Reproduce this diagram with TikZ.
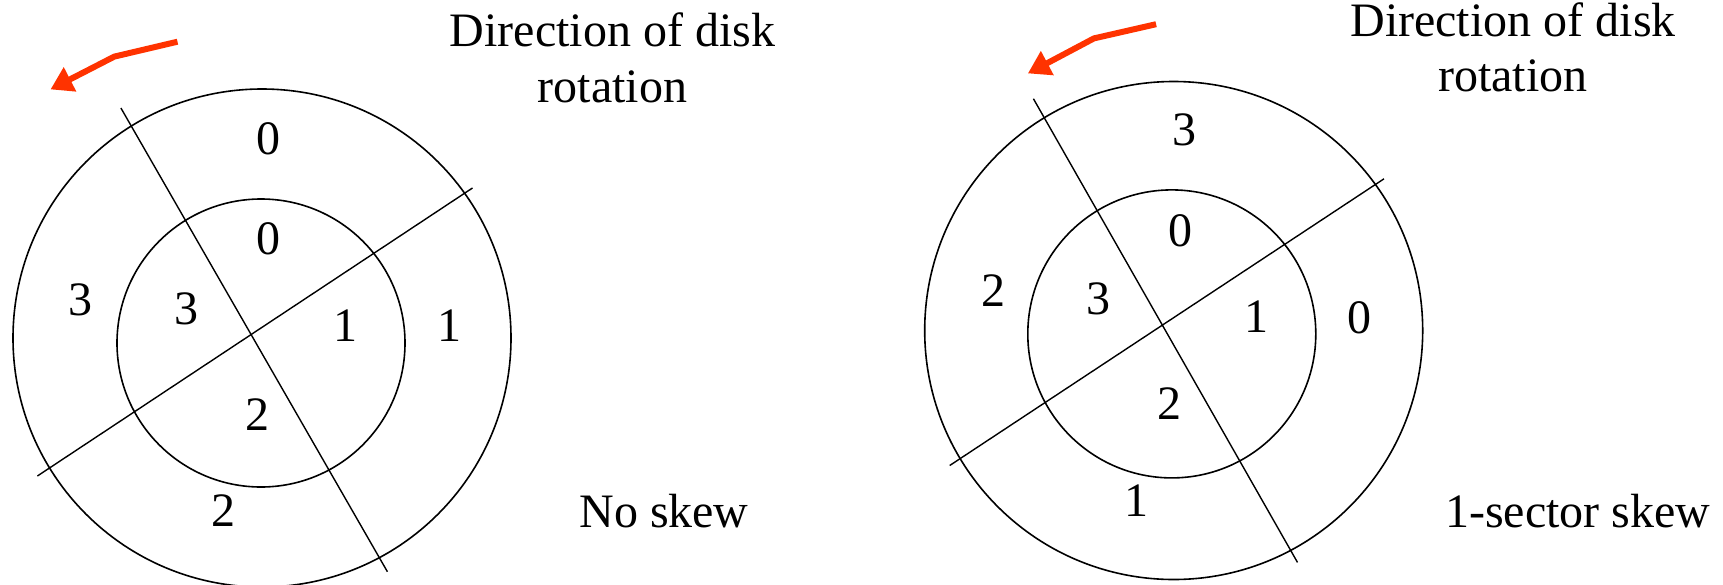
\documentclass[tikz,border=0pt]{standalone}
\usepackage{fontspec}
\setmainfont{Liberation Serif}
\usetikzlibrary{arrows.meta}
\definecolor{arrowred}{RGB}{255,51,0}
\begin{document}
\begin{tikzpicture}[x=1pt,y=-1pt,
  disk/.style={line width=1.6pt},
  cut/.style={line width=1.4pt},
  lbl/.style={font=\fontsize{48}{56}\selectfont, inner sep=0pt},
  rot/.style={line width=6pt, arrowred, line join=miter, -{Triangle[length=22pt,width=26pt]}},
]
\useasboundingbox (0,0) rectangle (1723,584);
% ---------- left disk: no skew ----------
\draw[disk] (262,338) circle [radius=249];
\draw[disk] (261,343) circle [radius=144];
\coordinate (l1a) at (120.9,108);
\coordinate (l1b) at (387.4,571.7);
\coordinate (l2a) at (37.4,476);
\coordinate (l2b) at (472.5,188);
\draw[cut] (l1a) -- (l1b);
\draw[cut] (l2a) -- (l2b);
\coordinate (la0) at (177.5,41.7);
\coordinate (la1) at (114.3,56.6);
\coordinate (la2) at (50.5,89.4);
\draw[rot] (la0) -- (la1) -- (la2);
\node[lbl] (lo0) at (268.7,139) {0};
\node[lbl] (li0) at (268.1,239.1) {0};
\node[lbl] (lo3) at (80.8,299.8) {3};
\node[lbl] (li3) at (186.8,308.4) {3};
\node[lbl] (li1) at (345,325.9) {1};
\node[lbl] (lo1) at (449.5,325.9) {1};
\node[lbl] (li2) at (257.1,414.5) {2};
\node[lbl] (lo2) at (223.6,510.2) {2};
\node[lbl, anchor=base] (t1a) at (612.6,46.5) {Direction of disk};
\node[lbl, anchor=base] (t1b) at (612.5,102.4) {rotation};
\node[lbl, anchor=base] (s1) at (664,527) {No skew};
% ---------- right disk: 1-sector skew ----------
\draw[disk] (1173.7,330.5) circle [radius=249];
\draw[disk] (1171.8,333.9) circle [radius=144];
\coordinate (r1a) at (1033.4,98.7);
\coordinate (r1b) at (1297.5,562.4);
\coordinate (r2a) at (949.7,465.5);
\coordinate (r2b) at (1384,178.8);
\draw[cut] (r1a) -- (r1b);
\draw[cut] (r2a) -- (r2b);
\coordinate (ra0) at (1156.1,24.2);
\coordinate (ra1) at (1093.9,38.4);
\coordinate (ra2) at (1027.9,73.4);
\draw[rot] (ra0) -- (ra1) -- (ra2);
\node[lbl] (ro3) at (1184.7,129.6) {3};
\node[lbl] (ri0) at (1180.3,230.9) {0};
\node[lbl] (ro2) at (993.2,290.5) {2};
\node[lbl] (ri3) at (1098.3,298.7) {3};
\node[lbl] (ri1) at (1256.3,316.6) {1};
\node[lbl] (ro0) at (1359.7,317.3) {0};
\node[lbl] (ri2) at (1169.3,404.1) {2};
\node[lbl] (ro1) at (1136.3,500.2) {1};
\node[lbl, anchor=base] (t2a) at (1513,36.5) {Direction of disk};
\node[lbl, anchor=base] (t2b) at (1512.8,91.2) {rotation};
\node[lbl, anchor=base] (s2) at (1577.7,527) {1-sector skew};
\end{tikzpicture}
\end{document}
